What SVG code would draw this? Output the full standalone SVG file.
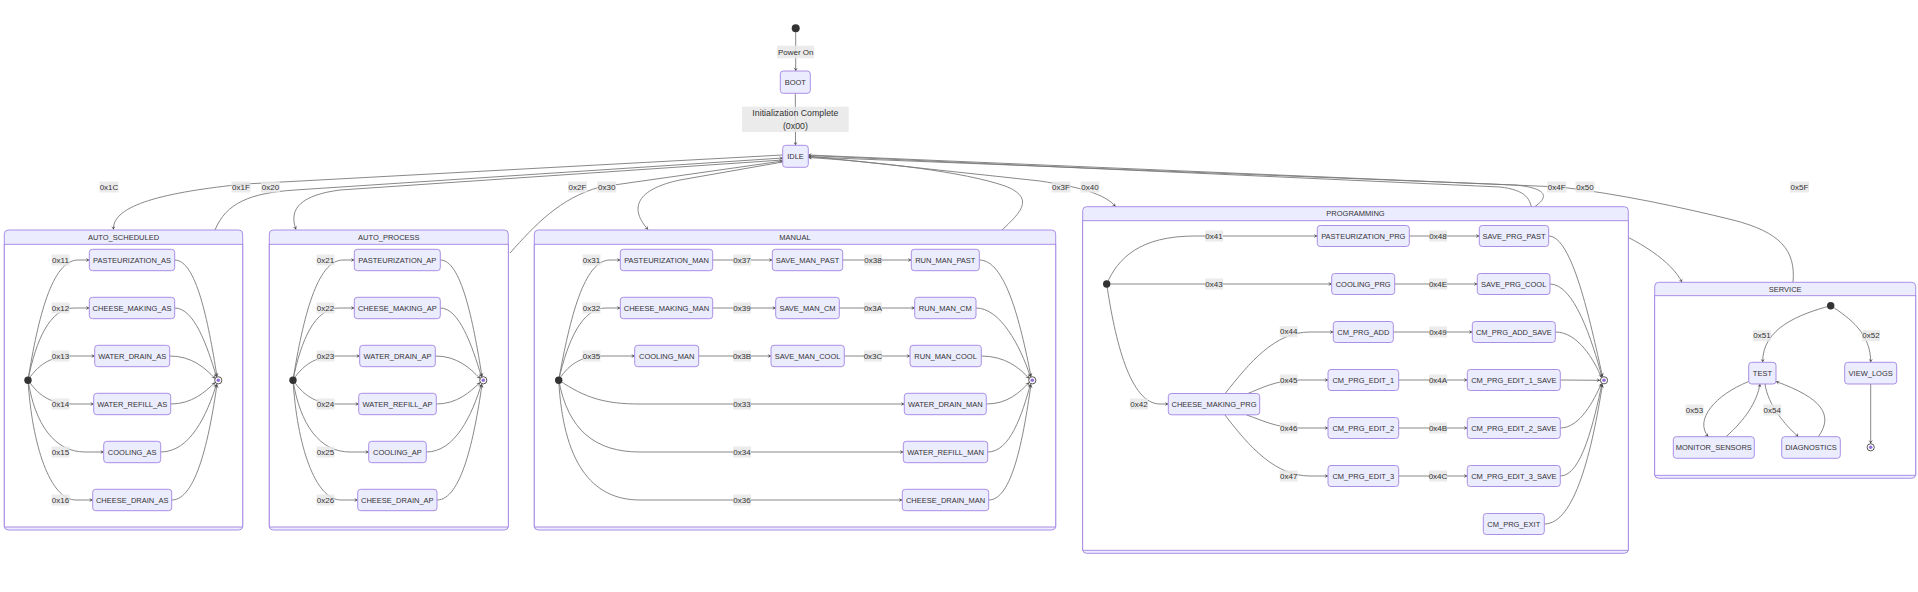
<svg xmlns="http://www.w3.org/2000/svg" width="1918" height="592" viewBox="0 0 1918 592">
<defs>
<marker id="arr" viewBox="0 0 20 14" refX="19" refY="7" markerUnits="userSpaceOnUse" markerWidth="7" markerHeight="5" orient="auto"><path d="M19,7 L9,13 L14,7 L9,1 Z" fill="#444"/></marker>
<style>
.e{fill:none;stroke:#7a7a7a;stroke-width:0.9;marker-end:url(#arr);}
.node rect{fill:#ECECFF;stroke:#a283e3;stroke-width:0.9;}
text{font-family:"Liberation Sans",Arial,sans-serif;fill:#333;text-anchor:middle;dominant-baseline:central;}
.node text,.ct{font-size:7.5px;}
.co{fill:#ECECFF;stroke:#a283e3;stroke-width:0.9;}
.ci{fill:#ffffff;stroke:#a283e3;stroke-width:0.9;}
.lb rect{fill:#e8e8e8;opacity:0.85;}
.lb text{font-size:8px;}
.st{fill:#333;}
.eo{fill:#fff;stroke:#444;stroke-width:0.9;}
.ei{fill:#9370DB;}
</style>
</defs>
<rect width="1918" height="592" fill="#ffffff"/>

<!-- top-level connectors (under clusters) -->
<g id="top-connectors">
<path class="e" d="M795.7,32 L795.7,71"/>
<path class="e" d="M795.3,93.3 L795.5,145.3"/>
<path class="e" d="M782.7,155 L245,184 C165,192 112,205 113.5,229.5"/>
<path class="e" d="M215,230 C226,203 250,193 295,190 L782.7,158"/>
<path class="e" d="M782.7,160 L340,190 C302,195 288,208 296,229.5"/>
<path class="e" d="M510,253 C535,225 560,198 600,187 L782.7,161"/>
<path class="e" d="M782.7,162 L680,180 C642,188 626,205 648,229.5"/>
<path class="e" d="M1002,230 C1020,213 1036,198 1005,186 C965,172 880,162 808.3,157.5"/>
<path class="e" d="M808.3,156 L1040,181 C1080,187 1105,194 1115.5,206.5"/>
<path class="e" d="M1535,206.5 C1550,196 1546,188 1515,185 L808.3,157"/>
<path class="e" d="M808.3,155.5 L1500,187 C1525,190 1532,198 1532,215 L1600,225 C1640,240 1672,262 1682,282.3"/>
<path class="e" d="M1793,282.3 C1796,250 1780,232 1733,220 C1680,207 1620,194 1560,187 L808.3,155"/>
</g>

<!-- clusters -->
<g id="AUTO_SCHEDULED">
<rect class="co" x="4.3" y="230" width="238.4" height="300" rx="4"/>
<rect class="ci" x="4.3" y="244.3" width="238.4" height="282.7"/>
<text class="ct" x="123.5" y="237.3">AUTO_SCHEDULED</text>
</g>
<g id="AUTO_PROCESS">
<rect class="co" x="269.3" y="230" width="239" height="300" rx="4"/>
<rect class="ci" x="269.3" y="244.3" width="239" height="282.7"/>
<text class="ct" x="388.8" y="237.3">AUTO_PROCESS</text>
</g>
<g id="MANUAL">
<rect class="co" x="534.3" y="230" width="521.4" height="300" rx="4"/>
<rect class="ci" x="534.3" y="244.3" width="521.4" height="282.7"/>
<text class="ct" x="795" y="237.3">MANUAL</text>
</g>
<g id="PROGRAMMING">
<rect class="co" x="1082.7" y="206.7" width="545.6" height="346.6" rx="4"/>
<rect class="ci" x="1082.7" y="220.7" width="545.6" height="329.6"/>
<text class="ct" x="1355.5" y="213.7">PROGRAMMING</text>
</g>
<g id="SERVICE">
<rect class="co" x="1654.7" y="282.3" width="261" height="196" rx="4"/>
<rect class="ci" x="1654.7" y="295.7" width="261" height="179.6"/>
<text class="ct" x="1785.2" y="289">SERVICE</text>
</g>

<!-- inner connectors -->
<g id="connectors">
<!-- AUTO_SCHEDULED -->
<path class="e" d="M28,380 C38,318 52,260 78,260 L89.3,260"/>
<path class="e" d="M28,380 C36,340 50,308 74,308 L89.3,308"/>
<path class="e" d="M28,380 C40,362 54,356 72,356 L94.7,356"/>
<path class="e" d="M28,380 C40,398 54,404 72,404 L93.7,404"/>
<path class="e" d="M28,380 C35,425 55,452 85,452 L103.7,452"/>
<path class="e" d="M28,380 C32,445 50,500 76,500 L92.7,500"/>
<path class="e" d="M174.7,260 C196,260 208,320 217,376.5"/>
<path class="e" d="M174.7,308 C194,308 207,345 216.5,377"/>
<path class="e" d="M169.7,356 C192,356 205,368 215,378.5"/>
<path class="e" d="M170.7,404 C192,404 205,392 215,382.5"/>
<path class="e" d="M160.7,452 C190,452 207,415 216.5,384"/>
<path class="e" d="M171.7,500 C196,500 209,440 217,384.5"/>
<!-- AUTO_PROCESS -->
<path class="e" d="M293,380 C303,318 317,260 343,260 L354.3,260"/>
<path class="e" d="M293,380 C301,340 315,308 339,308 L354.3,308"/>
<path class="e" d="M293,380 C305,362 319,356 337,356 L359.7,356"/>
<path class="e" d="M293,380 C305,398 319,404 337,404 L358.7,404"/>
<path class="e" d="M293,380 C300,425 320,452 350,452 L368.7,452"/>
<path class="e" d="M293,380 C297,445 315,500 341,500 L357.7,500"/>
<path class="e" d="M440.3,260 C461,260 473,320 482,376.5"/>
<path class="e" d="M440.3,308 C459,308 472,345 481.5,377"/>
<path class="e" d="M435.3,356 C457,356 470,368 480,378.5"/>
<path class="e" d="M436.3,404 C457,404 470,392 480,382.5"/>
<path class="e" d="M426.3,452 C455,452 472,415 481.5,384"/>
<path class="e" d="M437,500 C461,500 474,440 482,384.5"/>
<!-- MANUAL -->
<path class="e" d="M558.7,380 C570,318 584,260 610,260 L620.3,260"/>
<path class="e" d="M558.7,380 C568,340 582,308 606,308 L620.3,308"/>
<path class="e" d="M558.7,380 C570,362 584,356 602,356 L634.7,356"/>
<path class="e" d="M558.7,380 C585,398 605,404 640,404 L904.3,404"/>
<path class="e" d="M558.7,380 C568,430 595,452 640,452 L903.3,452"/>
<path class="e" d="M558.7,380 C563,460 590,500 640,500 L902.3,500"/>
<path class="e" d="M712.7,260 L772.3,260"/>
<path class="e" d="M842.7,260 L911.3,260"/>
<path class="e" d="M712.7,308 L775.7,308"/>
<path class="e" d="M839.3,308 L914.7,308"/>
<path class="e" d="M698.7,356 L771,356"/>
<path class="e" d="M844.3,356 L910,356"/>
<path class="e" d="M979.3,260 C1005,260 1020,320 1031,376.5"/>
<path class="e" d="M976,308 C1000,308 1020,345 1030.5,377"/>
<path class="e" d="M981.3,356 C1005,356 1020,368 1029,378.5"/>
<path class="e" d="M986.3,404 C1008,404 1020,392 1029,382.5"/>
<path class="e" d="M987.7,452 C1010,452 1022,415 1030.5,384"/>
<path class="e" d="M988.7,500 C1012,500 1023,440 1031,384.5"/>
<!-- PROGRAMMING -->
<path class="e" d="M1106.7,284 C1118,258 1140,236 1195,236 L1317.3,236"/>
<path class="e" d="M1106.7,284 L1331.7,284"/>
<path class="e" d="M1106.7,284 C1115,340 1130,404 1160,404 L1168.3,404"/>
<path class="e" d="M1225,393.7 C1250,362 1275,332 1310,332 L1333.3,332"/>
<path class="e" d="M1246.7,394 C1262,388 1276,380 1300,380 L1328,380"/>
<path class="e" d="M1246.7,415 C1262,420 1276,428 1300,428 L1328,428"/>
<path class="e" d="M1225,415 C1250,448 1276,476 1310,476 L1328,476"/>
<path class="e" d="M1409.3,236 L1479.3,236"/>
<path class="e" d="M1394.7,284 L1477.3,284"/>
<path class="e" d="M1393.3,332 L1472.3,332"/>
<path class="e" d="M1398.7,380 L1467.3,380"/>
<path class="e" d="M1398.7,428 L1467.3,428"/>
<path class="e" d="M1398.7,476 L1467.3,476"/>
<path class="e" d="M1548.7,236 C1572,236 1590,320 1602.5,376.5"/>
<path class="e" d="M1550,284 C1574,284 1592,340 1602,377"/>
<path class="e" d="M1555.3,332 C1578,332 1594,360 1601.5,377.5"/>
<path class="e" d="M1560.3,380 L1600,380.3"/>
<path class="e" d="M1560.3,428 C1580,428 1594,400 1601.5,383.5"/>
<path class="e" d="M1560.3,476 C1582,476 1594,420 1602,384"/>
<path class="e" d="M1544.3,524 C1575,524 1592,450 1602.5,384.5"/>
<!-- SERVICE -->
<path class="e" d="M1830.7,305.7 C1800,314 1762,328 1762.7,362.3"/>
<path class="e" d="M1830.7,305.7 C1850,318 1871,334 1870.7,362.3"/>
<path class="e" d="M1748.7,381.5 C1715,395 1694,420 1708.3,436.7"/>
<path class="e" d="M1726,436.7 C1745,420 1757,402 1760,384"/>
<path class="e" d="M1765,384 C1768,405 1785,425 1798.3,436.7"/>
<path class="e" d="M1818.3,436.7 C1834,415 1822,398 1776,381.5"/>
<path class="e" d="M1870.7,384 L1870.7,443.5"/>
</g>

<!-- start / end states -->
<g id="start_top"><circle class="st" cx="795.7" cy="28.3" r="4"/></g>
<g id="AS_start"><circle class="st" cx="28" cy="380.3" r="3.7"/></g>
<g id="AS_end"><circle class="eo" cx="218.3" cy="380.3" r="3.6"/><circle class="ei" cx="218.3" cy="380.3" r="1.8"/></g>
<g id="AP_start"><circle class="st" cx="293" cy="380.3" r="3.7"/></g>
<g id="AP_end"><circle class="eo" cx="483.3" cy="380.3" r="3.6"/><circle class="ei" cx="483.3" cy="380.3" r="1.8"/></g>
<g id="MAN_start"><circle class="st" cx="558.7" cy="380.3" r="3.7"/></g>
<g id="MAN_end"><circle class="eo" cx="1032.3" cy="380.3" r="3.6"/><circle class="ei" cx="1032.3" cy="380.3" r="1.8"/></g>
<g id="PRG_start"><circle class="st" cx="1106.7" cy="284" r="3.7"/></g>
<g id="PRG_end"><circle class="eo" cx="1604" cy="380.3" r="3.6"/><circle class="ei" cx="1604" cy="380.3" r="1.8"/></g>
<g id="SRV_start"><circle class="st" cx="1830.7" cy="305.7" r="3.7"/></g>
<g id="SRV_end"><circle class="eo" cx="1870.7" cy="447.3" r="3.6"/><circle class="ei" cx="1870.7" cy="447.3" r="1.8"/></g>

<!-- nodes -->
<g id="BOOT" class="node"><rect x="780.3" y="71" width="30" height="22.3" rx="3"/><text x="795.3" y="82.2">BOOT</text></g>
<g id="IDLE" class="node"><rect x="782.7" y="145.3" width="25.6" height="22" rx="3"/><text x="795.5" y="156.3">IDLE</text></g>

<g id="PASTEURIZATION_AS" class="node"><rect x="89.3" y="249.3" width="85.4" height="21.4" rx="3"/><text x="132" y="260">PASTEURIZATION_AS</text></g>
<g id="CHEESE_MAKING_AS" class="node"><rect x="89.3" y="297.3" width="85.4" height="21.4" rx="3"/><text x="132" y="308">CHEESE_MAKING_AS</text></g>
<g id="WATER_DRAIN_AS" class="node"><rect x="94.7" y="345.3" width="75" height="21.4" rx="3"/><text x="132.2" y="356">WATER_DRAIN_AS</text></g>
<g id="WATER_REFILL_AS" class="node"><rect x="93.7" y="393.3" width="77" height="21.4" rx="3"/><text x="132.2" y="404">WATER_REFILL_AS</text></g>
<g id="COOLING_AS" class="node"><rect x="103.7" y="441.3" width="57" height="21.4" rx="3"/><text x="132.2" y="452">COOLING_AS</text></g>
<g id="CHEESE_DRAIN_AS" class="node"><rect x="92.7" y="489.3" width="79" height="21.4" rx="3"/><text x="132.2" y="500">CHEESE_DRAIN_AS</text></g>

<g id="PASTEURIZATION_AP" class="node"><rect x="354.3" y="249.3" width="86" height="21.4" rx="3"/><text x="397.3" y="260">PASTEURIZATION_AP</text></g>
<g id="CHEESE_MAKING_AP" class="node"><rect x="354.3" y="297.3" width="86" height="21.4" rx="3"/><text x="397.3" y="308">CHEESE_MAKING_AP</text></g>
<g id="WATER_DRAIN_AP" class="node"><rect x="359.7" y="345.3" width="75.6" height="21.4" rx="3"/><text x="397.5" y="356">WATER_DRAIN_AP</text></g>
<g id="WATER_REFILL_AP" class="node"><rect x="358.7" y="393.3" width="77.6" height="21.4" rx="3"/><text x="397.5" y="404">WATER_REFILL_AP</text></g>
<g id="COOLING_AP" class="node"><rect x="368.7" y="441.3" width="57.6" height="21.4" rx="3"/><text x="397.5" y="452">COOLING_AP</text></g>
<g id="CHEESE_DRAIN_AP" class="node"><rect x="357.7" y="489.3" width="79.3" height="21.4" rx="3"/><text x="397.3" y="500">CHEESE_DRAIN_AP</text></g>

<g id="PASTEURIZATION_MAN" class="node"><rect x="620.3" y="249.3" width="92.4" height="21.4" rx="3"/><text x="666.5" y="260">PASTEURIZATION_MAN</text></g>
<g id="CHEESE_MAKING_MAN" class="node"><rect x="620.3" y="297.3" width="92.4" height="21.4" rx="3"/><text x="666.5" y="308">CHEESE_MAKING_MAN</text></g>
<g id="COOLING_MAN" class="node"><rect x="634.7" y="345.3" width="64" height="21.4" rx="3"/><text x="666.7" y="356">COOLING_MAN</text></g>
<g id="SAVE_MAN_PAST" class="node"><rect x="772.3" y="249.3" width="70.4" height="21.4" rx="3"/><text x="807.5" y="260">SAVE_MAN_PAST</text></g>
<g id="SAVE_MAN_CM" class="node"><rect x="775.7" y="297.3" width="63.6" height="21.4" rx="3"/><text x="807.5" y="308">SAVE_MAN_CM</text></g>
<g id="SAVE_MAN_COOL" class="node"><rect x="771" y="345.3" width="73.3" height="21.4" rx="3"/><text x="807.6" y="356">SAVE_MAN_COOL</text></g>
<g id="RUN_MAN_PAST" class="node"><rect x="911.3" y="249.3" width="68" height="21.4" rx="3"/><text x="945.3" y="260">RUN_MAN_PAST</text></g>
<g id="RUN_MAN_CM" class="node"><rect x="914.7" y="297.3" width="61.3" height="21.4" rx="3"/><text x="945.3" y="308">RUN_MAN_CM</text></g>
<g id="RUN_MAN_COOL" class="node"><rect x="910" y="345.3" width="71.3" height="21.4" rx="3"/><text x="945.6" y="356">RUN_MAN_COOL</text></g>
<g id="WATER_DRAIN_MAN" class="node"><rect x="904.3" y="393.3" width="82" height="21.4" rx="3"/><text x="945.3" y="404">WATER_DRAIN_MAN</text></g>
<g id="WATER_REFILL_MAN" class="node"><rect x="903.3" y="441.3" width="84.4" height="21.4" rx="3"/><text x="945.5" y="452">WATER_REFILL_MAN</text></g>
<g id="CHEESE_DRAIN_MAN" class="node"><rect x="902.3" y="489.3" width="86.4" height="21.4" rx="3"/><text x="945.5" y="500">CHEESE_DRAIN_MAN</text></g>

<g id="PASTEURIZATION_PRG" class="node"><rect x="1317.3" y="225.5" width="92" height="21" rx="3"/><text x="1363.3" y="236">PASTEURIZATION_PRG</text></g>
<g id="SAVE_PRG_PAST" class="node"><rect x="1479.3" y="225.5" width="69.4" height="21" rx="3"/><text x="1514" y="236">SAVE_PRG_PAST</text></g>
<g id="COOLING_PRG" class="node"><rect x="1331.7" y="273.5" width="63" height="21" rx="3"/><text x="1363.2" y="284">COOLING_PRG</text></g>
<g id="SAVE_PRG_COOL" class="node"><rect x="1477.3" y="273.5" width="72.7" height="21" rx="3"/><text x="1513.7" y="284">SAVE_PRG_COOL</text></g>
<g id="CM_PRG_ADD" class="node"><rect x="1333.3" y="321.5" width="60" height="21" rx="3"/><text x="1363.3" y="332">CM_PRG_ADD</text></g>
<g id="CM_PRG_ADD_SAVE" class="node"><rect x="1472.3" y="321.5" width="83" height="21" rx="3"/><text x="1513.8" y="332">CM_PRG_ADD_SAVE</text></g>
<g id="CM_PRG_EDIT_1" class="node"><rect x="1328" y="369.5" width="70.7" height="21" rx="3"/><text x="1363.3" y="380">CM_PRG_EDIT_1</text></g>
<g id="CM_PRG_EDIT_1_SAVE" class="node"><rect x="1467.3" y="369.5" width="93" height="21" rx="3"/><text x="1513.8" y="380">CM_PRG_EDIT_1_SAVE</text></g>
<g id="CM_PRG_EDIT_2" class="node"><rect x="1328" y="417.5" width="70.7" height="21" rx="3"/><text x="1363.3" y="428">CM_PRG_EDIT_2</text></g>
<g id="CM_PRG_EDIT_2_SAVE" class="node"><rect x="1467.3" y="417.5" width="93" height="21" rx="3"/><text x="1513.8" y="428">CM_PRG_EDIT_2_SAVE</text></g>
<g id="CM_PRG_EDIT_3" class="node"><rect x="1328" y="465.5" width="70.7" height="21" rx="3"/><text x="1363.3" y="476">CM_PRG_EDIT_3</text></g>
<g id="CM_PRG_EDIT_3_SAVE" class="node"><rect x="1467.3" y="465.5" width="93" height="21" rx="3"/><text x="1513.8" y="476">CM_PRG_EDIT_3_SAVE</text></g>
<g id="CM_PRG_EXIT" class="node"><rect x="1483.3" y="513.5" width="61" height="21" rx="3"/><text x="1513.8" y="524">CM_PRG_EXIT</text></g>
<g id="CHEESE_MAKING_PRG" class="node"><rect x="1168.3" y="393.5" width="91.4" height="21.3" rx="3"/><text x="1214" y="404.2">CHEESE_MAKING_PRG</text></g>

<g id="TEST" class="node"><rect x="1748.7" y="362.3" width="27.3" height="21.7" rx="3"/><text x="1762.4" y="373.2">TEST</text></g>
<g id="VIEW_LOGS" class="node"><rect x="1844.7" y="362.3" width="52" height="21.7" rx="3"/><text x="1870.7" y="373.2">VIEW_LOGS</text></g>
<g id="MONITOR_SENSORS" class="node"><rect x="1673.3" y="436.7" width="81" height="21.6" rx="3"/><text x="1713.8" y="447.5">MONITOR_SENSORS</text></g>
<g id="DIAGNOSTICS" class="node"><rect x="1781.7" y="436.7" width="58.6" height="21.6" rx="3"/><text x="1811" y="447.5">DIAGNOSTICS</text></g>

<!-- edge labels -->
<g id="labels" class="lb">
<rect x="777" y="45.7" width="37" height="12.6"/><text x="795.7" y="52">Power On</text>
<rect x="742" y="106.7" width="106.7" height="25.3"/><text x="795.4" y="113.2" style="font-size:8.8px">Initialization Complete</text><text x="795.4" y="126" style="font-size:8.8px">(0x00)</text>

<rect x="99.5" y="181.5" width="19" height="11"/><text x="109" y="187">0x1C</text>
<rect x="231.5" y="181.5" width="19" height="11"/><text x="241" y="187">0x1F</text>
<rect x="261" y="181.5" width="19" height="11"/><text x="270.5" y="187">0x20</text>
<rect x="568" y="181.5" width="19" height="11"/><text x="577.5" y="187">0x2F</text>
<rect x="597.2" y="181.5" width="19" height="11"/><text x="606.7" y="187">0x30</text>
<rect x="1051.5" y="181.5" width="19" height="11"/><text x="1061" y="187">0x3F</text>
<rect x="1080.5" y="181.5" width="19" height="11"/><text x="1090" y="187">0x40</text>
<rect x="1547.2" y="181.5" width="19" height="11"/><text x="1556.7" y="187">0x4F</text>
<rect x="1575.5" y="181.5" width="19" height="11"/><text x="1585" y="187">0x50</text>
<rect x="1790" y="181.5" width="19" height="11"/><text x="1799.5" y="187">0x5F</text>

<rect x="51.5" y="254.5" width="18" height="11"/><text x="60.5" y="260">0x11</text>
<rect x="51.5" y="302.5" width="18" height="11"/><text x="60.5" y="308">0x12</text>
<rect x="51.5" y="350.5" width="18" height="11"/><text x="60.5" y="356">0x13</text>
<rect x="51.5" y="398.5" width="18" height="11"/><text x="60.5" y="404">0x14</text>
<rect x="51.5" y="446.5" width="18" height="11"/><text x="60.5" y="452">0x15</text>
<rect x="51.5" y="494.5" width="18" height="11"/><text x="60.5" y="500">0x16</text>

<rect x="316.5" y="254.5" width="18" height="11"/><text x="325.5" y="260">0x21</text>
<rect x="316.5" y="302.5" width="18" height="11"/><text x="325.5" y="308">0x22</text>
<rect x="316.5" y="350.5" width="18" height="11"/><text x="325.5" y="356">0x23</text>
<rect x="316.5" y="398.5" width="18" height="11"/><text x="325.5" y="404">0x24</text>
<rect x="316.5" y="446.5" width="18" height="11"/><text x="325.5" y="452">0x25</text>
<rect x="316.5" y="494.5" width="18" height="11"/><text x="325.5" y="500">0x26</text>

<rect x="582.5" y="254.5" width="18" height="11"/><text x="591.5" y="260">0x31</text>
<rect x="582.5" y="302.5" width="18" height="11"/><text x="591.5" y="308">0x32</text>
<rect x="582.5" y="350.5" width="18" height="11"/><text x="591.5" y="356">0x35</text>
<rect x="733" y="254.5" width="18" height="11"/><text x="742" y="260">0x37</text>
<rect x="733" y="302.5" width="18" height="11"/><text x="742" y="308">0x39</text>
<rect x="733" y="350.5" width="18" height="11"/><text x="742" y="356">0x3B</text>
<rect x="864" y="254.5" width="18" height="11"/><text x="873" y="260">0x38</text>
<rect x="864" y="302.5" width="18" height="11"/><text x="873" y="308">0x3A</text>
<rect x="864" y="350.5" width="18" height="11"/><text x="873" y="356">0x3C</text>
<rect x="733" y="398.5" width="18" height="11"/><text x="742" y="404">0x33</text>
<rect x="733" y="446.5" width="18" height="11"/><text x="742" y="452">0x34</text>
<rect x="733" y="494.5" width="18" height="11"/><text x="742" y="500">0x36</text>

<rect x="1205" y="230.5" width="18" height="11"/><text x="1214" y="236">0x41</text>
<rect x="1205" y="278.5" width="18" height="11"/><text x="1214" y="284">0x43</text>
<rect x="1130" y="398.5" width="18" height="11"/><text x="1139" y="404">0x42</text>
<rect x="1279.7" y="326.2" width="18" height="11"/><text x="1288.7" y="331.7">0x44</text>
<rect x="1279.7" y="374.5" width="18" height="11"/><text x="1288.7" y="380">0x45</text>
<rect x="1279.7" y="422.5" width="18" height="11"/><text x="1288.7" y="428">0x46</text>
<rect x="1279.7" y="470.5" width="18" height="11"/><text x="1288.7" y="476">0x47</text>
<rect x="1429" y="230.5" width="18" height="11"/><text x="1438" y="236">0x48</text>
<rect x="1429" y="278.5" width="18" height="11"/><text x="1438" y="284">0x4E</text>
<rect x="1429" y="326.5" width="18" height="11"/><text x="1438" y="332">0x49</text>
<rect x="1429" y="374.5" width="18" height="11"/><text x="1438" y="380">0x4A</text>
<rect x="1429" y="422.5" width="18" height="11"/><text x="1438" y="428">0x4B</text>
<rect x="1429" y="470.5" width="18" height="11"/><text x="1438" y="476">0x4C</text>

<rect x="1753" y="330.2" width="18" height="11"/><text x="1762" y="335.7">0x51</text>
<rect x="1862" y="330.2" width="18" height="11"/><text x="1871" y="335.7">0x52</text>
<rect x="1685.5" y="404.5" width="18" height="11"/><text x="1694.5" y="410">0x53</text>
<rect x="1763.3" y="404.5" width="18" height="11"/><text x="1772.3" y="410">0x54</text>
</g>
</svg>
